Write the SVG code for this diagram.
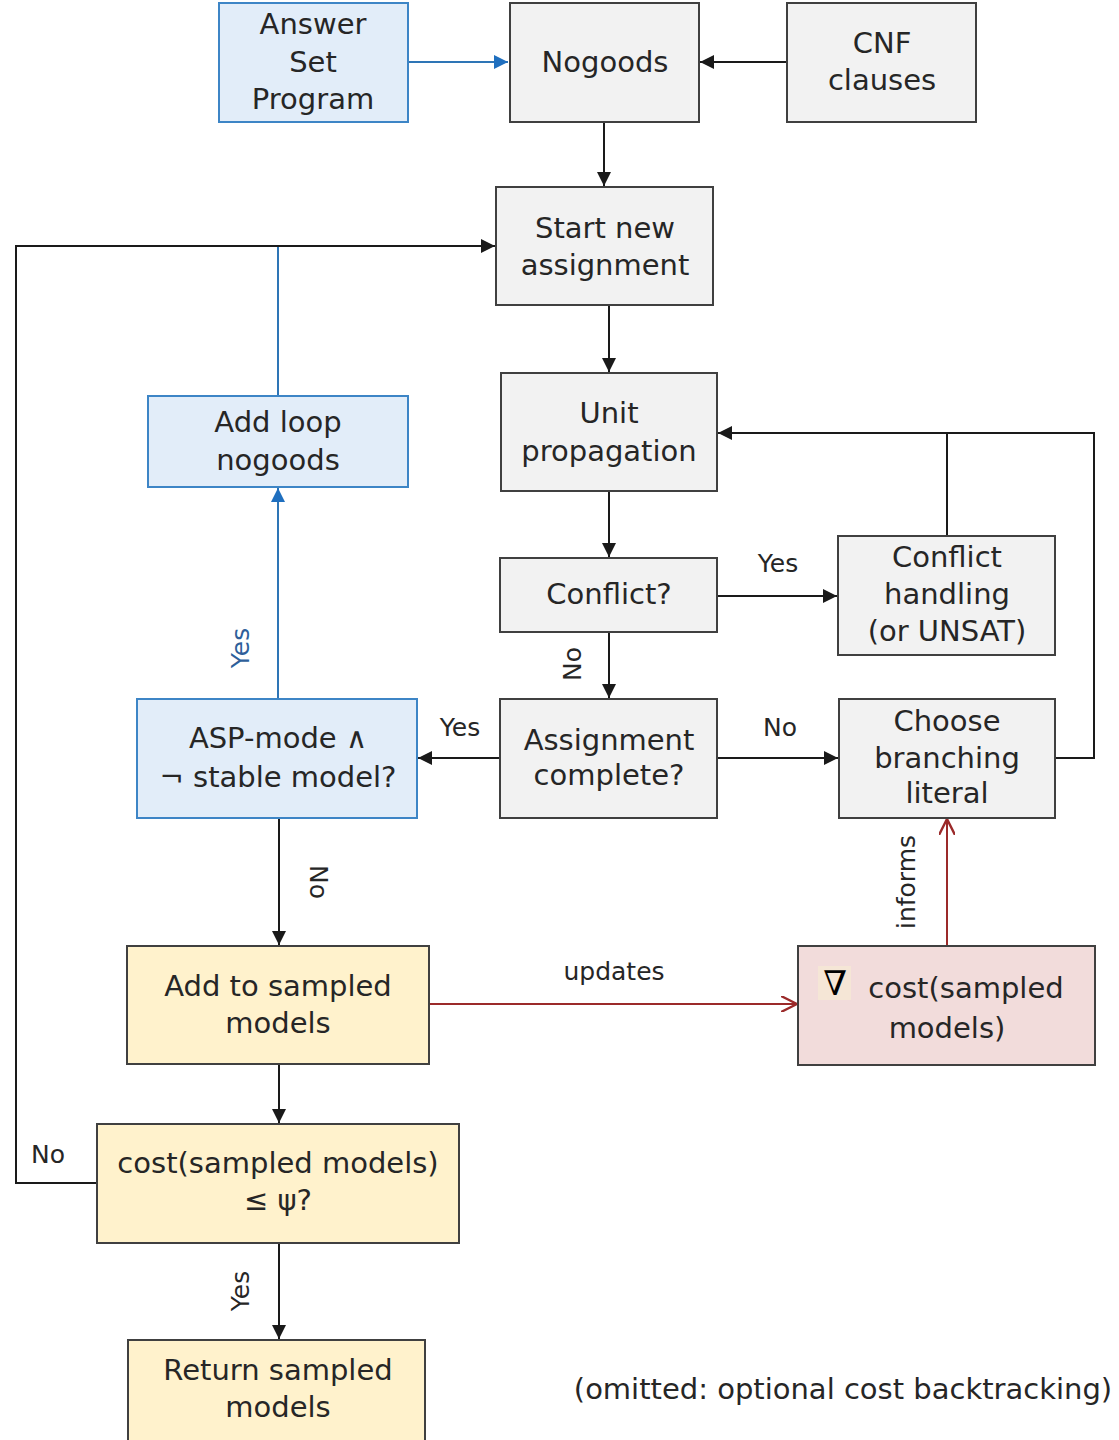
<svg xmlns="http://www.w3.org/2000/svg" width="1119" height="1440" viewBox="0 0 1119 1440">
<style>
  .t { font-family: "DejaVu Sans", "Noto Sans", sans-serif; font-size: 29px; fill: #262626; text-anchor: middle; dominant-baseline: central; }
  .lb { font-family: "DejaVu Sans", "Noto Sans", sans-serif; font-size: 25px; fill: #262626; text-anchor: middle; dominant-baseline: central; }
  .gray { fill: #f2f2f2; stroke: #404040; stroke-width: 2; }
  .blue { fill: #e2edf9; stroke: #3d85c6; stroke-width: 2; }
  .yel { fill: #fff2cc; stroke: #404040; stroke-width: 2; }
  .pink { fill: #f2dcdb; stroke: #404040; stroke-width: 2; }
  .c { fill: none; stroke: #1a1a1a; stroke-width: 2; }
  .cb { fill: none; stroke: #2e75b6; stroke-width: 2; }
  .cr { fill: none; stroke: #9b2a2a; stroke-width: 2; }
</style>
<defs>
  <marker id="ab" viewBox="0 0 10 10" refX="10" refY="5" markerWidth="15" markerHeight="14" markerUnits="userSpaceOnUse" orient="auto">
    <path d="M0,0 L10,5 L0,10 z" fill="#1a1a1a"/>
  </marker>
  <marker id="abl" viewBox="0 0 10 10" refX="10" refY="5" markerWidth="15" markerHeight="14" markerUnits="userSpaceOnUse" orient="auto">
    <path d="M0,0 L10,5 L0,10 z" fill="#1f6fbf"/>
  </marker>
  <marker id="ar" viewBox="0 0 10 10" refX="10" refY="5" markerWidth="16" markerHeight="16" markerUnits="userSpaceOnUse" orient="auto">
    <path d="M0,0 L10,5 L0,10" fill="none" stroke="#9b2a2a" stroke-width="1.5"/>
  </marker>
</defs>
<rect width="1119" height="1440" fill="#ffffff"/>

<g id="connectors">
  <line class="cb" x1="408" y1="62" x2="508" y2="62" marker-end="url(#abl)"/>
  <line class="c" x1="787" y1="62" x2="700" y2="62" marker-end="url(#ab)"/>
  <line class="c" x1="604" y1="122" x2="604" y2="186" marker-end="url(#ab)"/>
  <line class="c" x1="609" y1="305" x2="609" y2="372" marker-end="url(#ab)"/>
  <line class="c" x1="609" y1="491" x2="609" y2="557" marker-end="url(#ab)"/>
  <line class="c" x1="717" y1="596" x2="837" y2="596" marker-end="url(#ab)"/>
  <line class="c" x1="609" y1="632" x2="609" y2="698" marker-end="url(#ab)"/>
  <line class="c" x1="717" y1="758" x2="838" y2="758" marker-end="url(#ab)"/>
  <line class="c" x1="500" y1="758" x2="418" y2="758" marker-end="url(#ab)"/>
  <polyline class="c" points="1055,758 1094,758 1094,433 718,433" marker-end="url(#ab)"/>
  <line class="c" x1="947" y1="536" x2="947" y2="433"/>
  <line class="cb" x1="278" y1="699" x2="278" y2="488" marker-end="url(#abl)"/>
  <line class="cb" x1="278" y1="396" x2="278" y2="246"/>
  <polyline class="c" points="97,1183 16,1183 16,246 495,246" marker-end="url(#ab)"/>
  <line class="c" x1="279" y1="818" x2="279" y2="945" marker-end="url(#ab)"/>
  <line class="cr" x1="429" y1="1004" x2="797" y2="1004" marker-end="url(#ar)"/>
  <line class="cr" x1="947" y1="946" x2="947" y2="819" marker-end="url(#ar)"/>
  <line class="c" x1="279" y1="1064" x2="279" y2="1123" marker-end="url(#ab)"/>
  <line class="c" x1="279" y1="1243" x2="279" y2="1339" marker-end="url(#ab)"/>
  <text class="lb" x="778" y="563">Yes</text>
  <text class="lb" x="572" y="664" transform="rotate(-90 572 664)">No</text>
  <text class="lb" x="780" y="727">No</text>
  <text class="lb" x="460" y="727">Yes</text>
  <text class="lb" x="240" y="648" transform="rotate(-90 240 648)" style="fill:#2e5f9a">Yes</text>
  <text class="lb" x="318" y="882" transform="rotate(90 318 882)">No</text>
  <text class="lb" x="614" y="971">updates</text>
  <text class="lb" x="906" y="882" transform="rotate(-90 906 882)">informs</text>
  <text class="lb" x="240" y="1291" transform="rotate(-90 240 1291)">Yes</text>
  <text class="lb" x="48" y="1154">No</text>
</g>

<g id="answer-set-program">
  <rect class="blue" x="219" y="3" width="189" height="119"/>
  <text class="t" x="313" y="24">Answer</text>
  <text class="t" x="313" y="62">Set</text>
  <text class="t" x="313" y="99">Program</text>
</g>
<g id="nogoods">
  <rect class="gray" x="510" y="3" width="189" height="119"/>
  <text class="t" x="605" y="62">Nogoods</text>
</g>
<g id="cnf-clauses">
  <rect class="gray" x="787" y="3" width="189" height="119"/>
  <text class="t" x="882" y="43">CNF</text>
  <text class="t" x="882" y="80">clauses</text>
</g>
<g id="start-new-assignment">
  <rect class="gray" x="496" y="187" width="217" height="118"/>
  <text class="t" x="605" y="228">Start new</text>
  <text class="t" x="605" y="265">assignment</text>
</g>
<g id="unit-propagation">
  <rect class="gray" x="501" y="373" width="216" height="118"/>
  <text class="t" x="609" y="413">Unit</text>
  <text class="t" x="609" y="451">propagation</text>
</g>
<g id="add-loop-nogoods">
  <rect class="blue" x="148" y="396" width="260" height="91"/>
  <text class="t" x="278" y="422">Add loop</text>
  <text class="t" x="278" y="460">nogoods</text>
</g>
<g id="conflict">
  <rect class="gray" x="500" y="558" width="217" height="74"/>
  <text class="t" x="609" y="594">Conflict?</text>
</g>
<g id="conflict-handling">
  <rect class="gray" x="838" y="536" width="217" height="119"/>
  <text class="t" x="947" y="557">Conflict</text>
  <text class="t" x="947" y="594">handling</text>
  <text class="t" x="947" y="631">(or UNSAT)</text>
</g>
<g id="asp-mode">
  <rect class="blue" x="137" y="699" width="280" height="119"/>
  <text class="t" x="278" y="738">ASP-mode ∧</text>
  <text class="t" x="278" y="777">¬ stable model?</text>
</g>
<g id="assignment-complete">
  <rect class="gray" x="500" y="699" width="217" height="119"/>
  <text class="t" x="609" y="740">Assignment</text>
  <text class="t" x="609" y="775">complete?</text>
</g>
<g id="choose-branching-literal">
  <rect class="gray" x="839" y="699" width="216" height="119"/>
  <text class="t" x="947" y="721">Choose</text>
  <text class="t" x="947" y="758">branching</text>
  <text class="t" x="947" y="793">literal</text>
</g>
<g id="add-to-sampled-models">
  <rect class="yel" x="127" y="946" width="302" height="118"/>
  <text class="t" x="278" y="986">Add to sampled</text>
  <text class="t" x="278" y="1023">models</text>
</g>
<g id="gradient-cost">
  <rect class="pink" x="798" y="946" width="297" height="119"/>
  <rect x="818" y="966" width="33" height="34" fill="#f5e6d6"/>
  <text x="835" y="983" style="font-family:'Liberation Serif','DejaVu Serif',serif;font-size:34px;fill:#000;text-anchor:middle;dominant-baseline:central">∇</text>
  <text class="t" x="966" y="988">cost(sampled</text>
  <text class="t" x="947" y="1028">models)</text>
</g>
<g id="cost-check">
  <rect class="yel" x="97" y="1124" width="362" height="119"/>
  <text class="t" x="278" y="1163">cost(sampled models)</text>
  <text class="t" x="278" y="1200">≤ ψ?</text>
</g>
<g id="return-sampled-models">
  <rect class="yel" x="128" y="1340" width="297" height="102"/>
  <text class="t" x="278" y="1370">Return sampled</text>
  <text class="t" x="278" y="1407">models</text>
</g>
<text class="t" x="843" y="1389">(omitted: optional cost backtracking)</text>
</svg>
